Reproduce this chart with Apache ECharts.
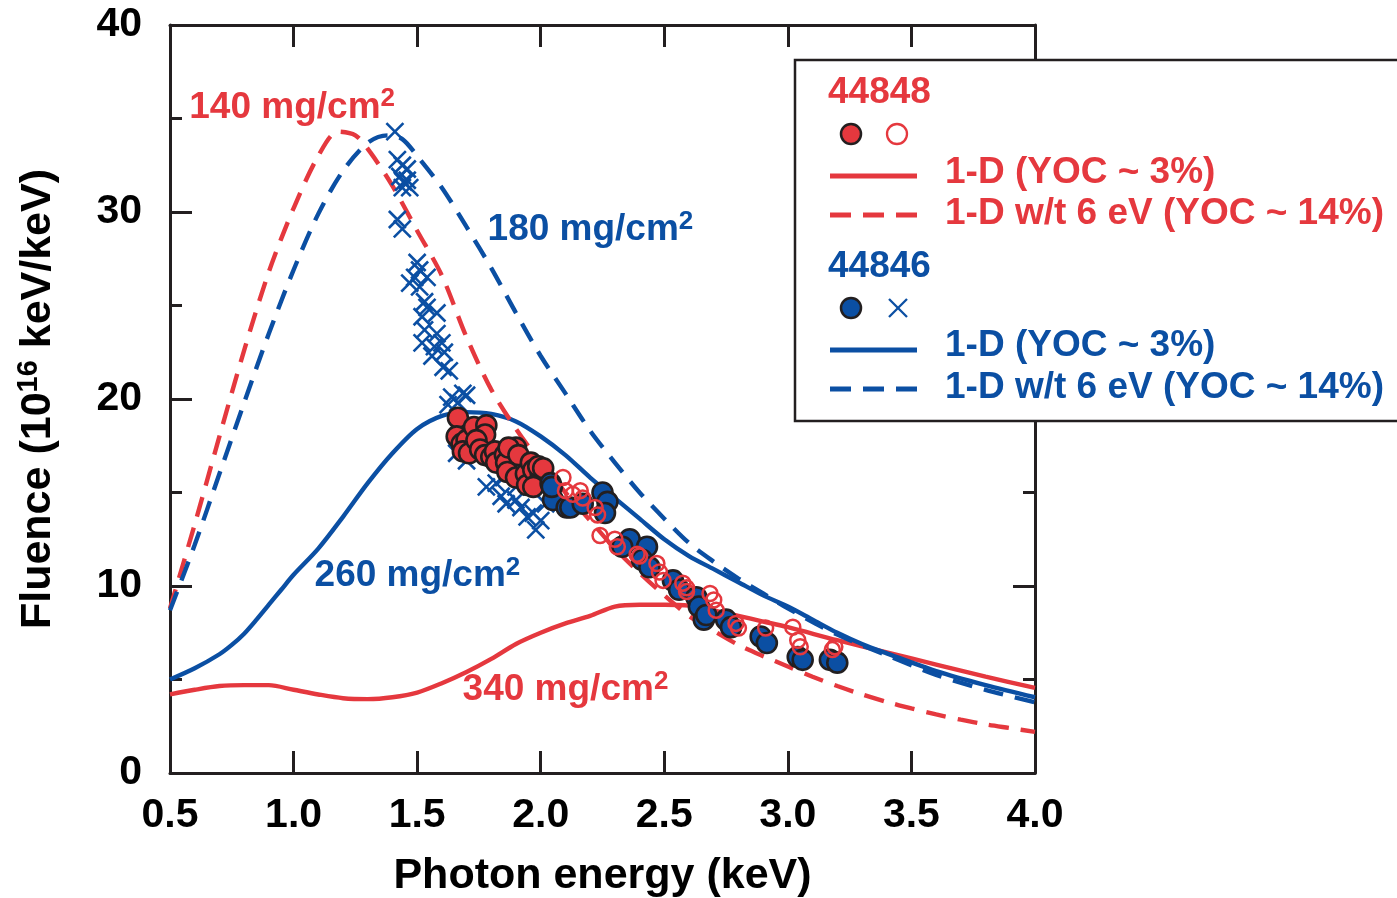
<!DOCTYPE html>
<html><head><meta charset="utf-8">
<script src="https://cdn.jsdelivr.net/npm/echarts@6/dist/echarts.min.js"></script>
<style>html,body{margin:0;padding:0;background:#fff}#c{width:1397px;height:898px}</style>
</head><body><div id="c"></div>
<script>
// ---- data ----
const xTicks = [0.5, 1.0, 1.5, 2.0, 2.5, 3.0, 3.5, 4.0];
const yTicks = [0, 10, 20, 30, 40];

// 44848 (red) 1-D w/t 6 eV  -- 140 mg/cm2
const redDashX = [0.5,0.6,0.7,0.8,0.9,1.0,1.1,1.18,1.25,1.31,1.4,1.5,1.6,1.7,1.8,1.9,2.0,2.1,2.2,2.3,2.4,2.5,2.6,2.7,2.8,2.9,3.0,3.1,3.2,3.3,3.4,3.5,3.6,3.7,3.8,3.9,4.0];
const redDashY = [8.8,13.3,18.0,22.6,26.8,30.2,33.0,34.3,34.1,33.2,31.4,29.0,26.6,23.3,20.5,18.4,16.6,15.0,13.5,12.0,10.7,9.5,8.4,7.6,6.85,6.25,5.7,5.15,4.65,4.2,3.8,3.45,3.13,2.85,2.6,2.4,2.2];
// 44848 (red) 1-D -- 340 mg/cm2
const redSolidX = [0.5,0.6,0.7,0.8,0.9,1.0,1.1,1.2,1.3,1.4,1.5,1.6,1.7,1.8,1.9,2.0,2.1,2.2,2.3,2.4,2.5,2.6,2.7,2.8,2.9,3.0,3.2,3.4,3.6,3.8,4.0];
const redSolidY = [4.2,4.45,4.65,4.7,4.7,4.45,4.2,4.0,3.95,4.05,4.3,4.8,5.4,6.1,6.9,7.5,8.0,8.4,8.9,9.0,9.0,8.95,8.7,8.4,8.1,7.8,7.1,6.45,5.8,5.15,4.55];
// 44846 (blue) 1-D w/t 6 eV -- 180 mg/cm2
const blueDashX = [0.5,0.6,0.7,0.8,0.9,1.0,1.1,1.2,1.3,1.38,1.44,1.5,1.6,1.7,1.8,1.9,2.0,2.1,2.2,2.3,2.4,2.5,2.6,2.7,2.8,2.9,3.0,3.2,3.4,3.6,3.8,4.0];
const blueDashY = [8.7,12.2,16.0,19.8,23.5,26.9,29.9,32.2,33.7,34.1,33.9,33.0,31.3,29.2,27.0,24.6,22.3,20.3,18.3,16.6,15.0,13.6,12.3,11.3,10.4,9.6,8.8,7.4,6.3,5.25,4.45,3.78];
// 44846 (blue) 1-D -- 260 mg/cm2
const blueSolidX = [0.5,0.6,0.7,0.75,0.8,0.85,0.9,0.95,1.0,1.1,1.2,1.3,1.4,1.5,1.6,1.7,1.8,1.9,2.0,2.1,2.2,2.3,2.4,2.5,2.6,2.7,2.8,2.9,3.0,3.1,3.2,3.3,3.4,3.6,3.8,4.0];
const blueSolidY = [5.0,5.6,6.35,6.85,7.45,8.2,9.0,9.8,10.6,12.0,13.7,15.5,17.1,18.4,19.1,19.3,19.2,18.8,18.0,17.0,15.8,14.7,13.6,12.5,11.6,10.9,10.2,9.5,8.9,8.2,7.5,6.9,6.4,5.45,4.7,4.05];

// 44846 open (crosses)
const blueCrossX = [1.41,1.42,1.44,1.46,1.43,1.445,1.46,1.47,1.44,1.42,1.44,1.50,1.51,1.49,1.47,1.51,1.54,1.53,1.54,1.52,1.58,1.53,1.58,1.52,1.57,1.60,1.56,1.61,1.605,1.63,1.64,1.625,1.665,1.70,1.685,1.66,1.70,1.77,1.78,1.82,1.84,1.86,1.90,1.92,1.945,1.97,1.98,2.0,2.02,1.85,1.90];
const blueCrossY = [34.3,32.8,32.5,32.3,31.9,31.6,31.7,31.3,31.3,29.6,29.1,27.3,26.9,26.5,26.2,26.0,26.5,25.2,24.9,24.4,24.6,23.7,23.5,23.0,22.8,23.0,22.3,22.5,21.7,21.5,20.1,19.7,19.8,20.2,20.3,17.1,16.7,17.3,15.3,15.5,14.8,14.4,14.6,14.2,13.7,13.9,13.0,13.5,14.4,15.8,15.3];
// 44848 filled (red circles)
const redFillX = [1.665,1.66,1.68,1.70,1.685,1.71,1.73,1.78,1.775,1.74,1.755,1.775,1.80,1.815,1.82,1.855,1.86,1.90,1.87,1.91,1.865,1.90,1.94,1.96,1.945,1.97,2.0,1.99,2.01,1.97];
const redFillY = [19.0,18.0,17.6,17.8,17.2,17.1,18.5,18.6,18.1,17.8,17.3,17.0,16.9,17.2,16.6,17.0,16.6,17.4,17.4,17.0,16.1,15.8,16.0,16.6,15.4,16.2,16.0,16.4,16.3,15.3];
// 44846 filled (blue circles)
const blueFillX = [2.04,2.05,2.045,2.105,2.12,2.17,2.25,2.27,2.26,2.36,2.33,2.43,2.41,2.44,2.535,2.56,2.63,2.64,2.66,2.67,2.75,2.77,2.89,2.915,3.04,3.06,3.17,3.2];
const blueFillY = [15.5,14.6,15.3,14.2,14.2,14.4,15.0,14.5,13.9,12.5,12.1,12.1,11.4,11.0,10.3,9.8,9.4,8.9,8.2,8.45,8.2,7.8,7.3,6.95,6.2,6.05,6.05,5.9];
// 44848 open (red open circles)
const redOpenX = [2.09,2.10,2.16,2.17,2.13,2.22,2.23,2.24,2.30,2.31,2.39,2.40,2.47,2.48,2.495,2.575,2.59,2.685,2.70,2.59,2.71,2.79,2.80,2.91,3.02,3.04,3.05,3.18,3.19];
const redOpenY = [15.8,15.1,15.1,14.7,14.9,14.2,13.8,12.7,12.5,12.1,11.7,11.6,11.2,10.75,10.3,10.15,9.7,9.6,9.25,9.9,8.7,8.0,7.75,7.75,7.8,7.1,6.75,6.6,6.75];

// annotations (data coordinates of the left/middle of each label)
const annText = ['140 mg/cm', '180 mg/cm', '260 mg/cm', '340 mg/cm'];
const annX = [0.58, 1.787, 1.087, 1.686];
const annY = [35.55, 29.0, 10.5, 4.4];
const annColor = ['red', 'blue', 'blue', 'red'];

const legendTitles = ['44848', '44846'];
const legendLabels = ['1-D (YOC ~ 3%)', '1-D w/t 6 eV (YOC ~ 14%)'];

// ---- style ----
const RED = '#e5383e', BLUE = '#0b4fa3', INK = '#231f20';
const FONT = '"Liberation Sans", Arial, Helvetica, sans-serif';
const zip = (xs, ys) => xs.map((x, i) => [x, ys[i]]);

const chart = echarts.init(document.getElementById('c'), null, {renderer: 'canvas'});

const axisCommon = {
  type: 'value', splitLine: {show: false},
  axisLine: {show: true, onZero: false, lineStyle: {color: INK, width: 3}},
  axisTick: {show: true, inside: true, length: 22, lineStyle: {color: INK, width: 3}}
};

const lineSeries = (name, xs, ys, color, dashed) => ({
  name, type: 'line', data: zip(xs, ys), showSymbol: false, smooth: 0.3, z: 2,
  lineStyle: {color, width: 4.4, type: dashed ? [20, 12] : 'solid', cap: 'butt'},
  emphasis: {disabled: true}, silent: true
});

const annColors = {red: RED, blue: BLUE};

const option = {
  animation: false,
  grid: {left: 170, right: 362, top: 25, bottom: 125, containLabel: false, outerBoundsMode: 'none'},
  xAxis: [
    Object.assign({}, axisCommon, {
      min: 0.5, max: 4.0, interval: 0.5, position: 'bottom',
      axisLabel: {show: true, margin: 22, color: '#000', fontFamily: FONT, fontWeight: 'bold', fontSize: 41,
        formatter: v => xTicks.find(t => Math.abs(t - v) < 1e-6) !== undefined ? v.toFixed(1) : ''},
      name: 'Photon energy (keV)', nameLocation: 'middle', nameGap: 82,
      nameTextStyle: {color: '#000', fontFamily: FONT, fontWeight: 'bold', fontSize: 43}
    }),
    Object.assign({}, axisCommon, {min: 0.5, max: 4.0, interval: 0.5, position: 'top', axisLabel: {show: false}})
  ],
  yAxis: [
    Object.assign({}, axisCommon, {
      min: 0, max: 40, interval: 10, position: 'left',
      minorTick: {show: true, splitNumber: 2, length: 12, lineStyle: {color: INK, width: 3}},
      axisLabel: {show: true, margin: 28, color: '#000', fontFamily: FONT, fontWeight: 'bold', fontSize: 41,
        formatter: v => yTicks.indexOf(v) >= 0 ? String(v) : ''},
      name: '{a|Fluence (10}{s|16}{a| keV/keV)}', nameLocation: 'middle', nameGap: 108, nameRotate: 90,
      nameTextStyle: {color: '#000', fontFamily: FONT, fontWeight: 'bold', fontSize: 43,
        rich: {a: {fontFamily: FONT, fontWeight: 'bold', fontSize: 43, color: '#000'},
               s: {fontFamily: FONT, fontWeight: 'bold', fontSize: 29, color: '#000', padding: [0, 0, 19, 0]}}}
    }),
    Object.assign({}, axisCommon, {
      min: 0, max: 40, interval: 10, position: 'right',
      minorTick: {show: true, splitNumber: 2, length: 12, lineStyle: {color: INK, width: 3}},
      axisLabel: {show: false}
    })
  ],
  series: [
    lineSeries('red340', redSolidX, redSolidY, RED, false),
    lineSeries('blue260', blueSolidX, blueSolidY, BLUE, false),
    lineSeries('red140', redDashX, redDashY, RED, true),
    lineSeries('blue180', blueDashX, blueDashY, BLUE, true),
    {
      name: '44846 open', type: 'scatter', z: 3, data: zip(blueCrossX, blueCrossY),
      symbol: 'path://M0,0L10,10M10,0L0,10', symbolSize: 17,
      itemStyle: {color: 'rgba(0,0,0,0)', borderColor: BLUE, borderWidth: 2.6, opacity: 1}, silent: true
    },
    {
      name: '44848 filled', type: 'scatter', z: 4, data: zip(redFillX, redFillY),
      symbol: 'circle', symbolSize: 20,
      itemStyle: {color: RED, borderColor: INK, borderWidth: 2.6, opacity: 1}, silent: true
    },
    {
      name: '44846 filled', type: 'scatter', z: 4, data: zip(blueFillX, blueFillY),
      symbol: 'circle', symbolSize: 20,
      itemStyle: {color: BLUE, borderColor: INK, borderWidth: 2.6, opacity: 1}, silent: true
    },
    {
      name: '44848 open', type: 'scatter', z: 5, data: zip(redOpenX, redOpenY),
      symbol: 'circle', symbolSize: 15,
      itemStyle: {color: 'rgba(255,255,255,0)', borderColor: RED, borderWidth: 2.5, opacity: 1}, silent: true
    },
    {
      name: 'annotations', type: 'scatter', z: 6, symbolSize: 1, silent: true,
      itemStyle: {color: 'rgba(0,0,0,0)', opacity: 1},
      data: annText.map((t, i) => ({
        value: [annX[i], annY[i]],
        label: {
          show: true, position: [0, 0], align: 'left', verticalAlign: 'middle',
          formatter: '{a|' + t + '}{s|2}',
          rich: {
            a: {fontFamily: FONT, fontWeight: 'bold', fontSize: 37, color: annColors[annColor[i]]},
            s: {fontFamily: FONT, fontWeight: 'bold', fontSize: 26, color: annColors[annColor[i]], padding: [0, 0, 17, 0]}
          }
        }
      }))
    }
  ],
  graphic: (function () {
    const g = [];
    const txt = (x, y, s, color) => ({type: 'text', z: 101, x, y,
      style: {text: s, fill: color, font: 'bold 37px ' + FONT, textVerticalAlign: 'middle', textAlign: 'left'}});
    g.push({type: 'rect', z: 100, shape: {x: 795, y: 60, width: 640, height: 361},
      style: {fill: '#fff', stroke: INK, lineWidth: 2.5}});
    // 44848 block
    g.push(txt(828, 93, legendTitles[0], RED));
    g.push({type: 'circle', z: 101, shape: {cx: 851, cy: 134, r: 10}, style: {fill: RED, stroke: INK, lineWidth: 2.5}});
    g.push({type: 'circle', z: 101, shape: {cx: 897, cy: 134, r: 10}, style: {fill: 'none', stroke: RED, lineWidth: 2.3}});
    g.push({type: 'line', z: 101, shape: {x1: 830, y1: 176, x2: 917, y2: 176}, style: {stroke: RED, lineWidth: 4.8}});
    g.push(txt(945, 173, legendLabels[0], RED));
    g.push({type: 'line', z: 101, shape: {x1: 830, y1: 215, x2: 917, y2: 215}, style: {stroke: RED, lineWidth: 4.8, lineDash: [21, 12]}});
    g.push(txt(945, 214, legendLabels[1], RED));
    // 44846 block
    g.push(txt(828, 267, legendTitles[1], BLUE));
    g.push({type: 'circle', z: 101, shape: {cx: 851, cy: 308, r: 10}, style: {fill: BLUE, stroke: INK, lineWidth: 2.5}});
    g.push({type: 'polyline', z: 101, shape: {points: [[889, 299], [907, 317]]}, style: {stroke: BLUE, lineWidth: 2.3}});
    g.push({type: 'polyline', z: 101, shape: {points: [[907, 299], [889, 317]]}, style: {stroke: BLUE, lineWidth: 2.3}});
    g.push({type: 'line', z: 101, shape: {x1: 830, y1: 350, x2: 917, y2: 350}, style: {stroke: BLUE, lineWidth: 4.8}});
    g.push(txt(945, 346, legendLabels[0], BLUE));
    g.push({type: 'line', z: 101, shape: {x1: 830, y1: 389, x2: 917, y2: 389}, style: {stroke: BLUE, lineWidth: 4.8, lineDash: [21, 12]}});
    g.push(txt(945, 388, legendLabels[1], BLUE));
    return g;
  })()
};
chart.setOption(option);
</script>
</body></html>
